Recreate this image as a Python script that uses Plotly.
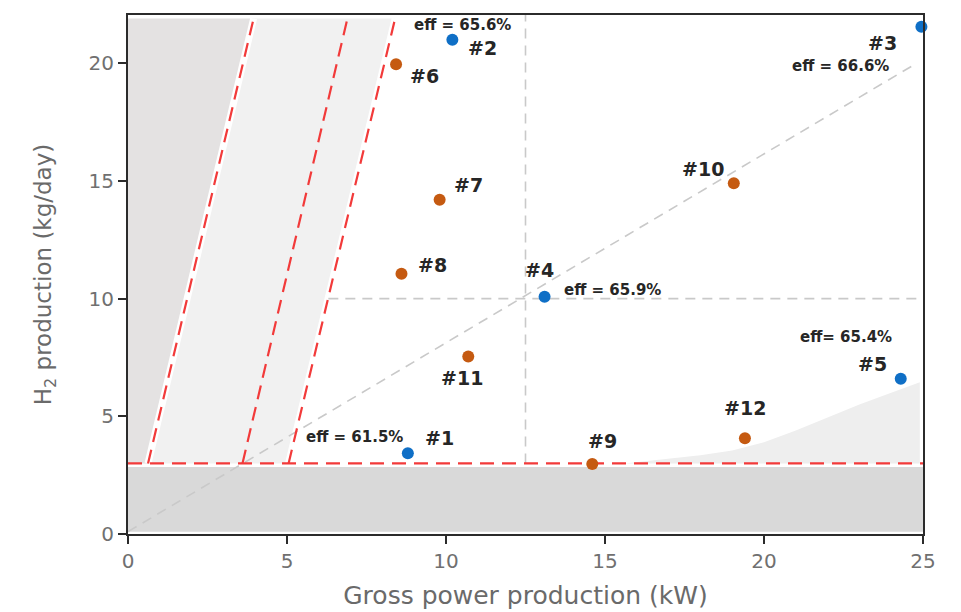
import plotly.graph_objects as go

# ---- data ----
blue_labels = ["#1", "#2", "#3", "#4", "#5"]
blue_x = [8.8, 10.2, 24.95, 13.1, 24.3]
blue_y = [3.43, 21.0, 21.55, 10.08, 6.6]

orange_labels = ["#6", "#7", "#8", "#9", "#10", "#11", "#12"]
orange_x = [8.43, 9.8, 8.6, 14.6, 19.05, 10.7, 19.4]
orange_y = [19.96, 14.2, 11.06, 2.97, 14.9, 7.54, 4.07]

eff_labels = ["eff = 61.5%", "eff = 65.6%", "eff = 66.6%", "eff = 65.9%", "eff= 65.4%"]

# boundary lines (red dashed)
lineA_x = [0.63, 3.95]
lineB_x = [3.6, 6.9]
lineC_x = [5.05, 8.4]
line_y = [3.0, 21.9]
h_limit = 3.0

# shaded regions
bottom_y = [0.1, 2.85]
curve_x = [15.6, 17, 18, 19, 20, 21, 22, 23, 24, 24.9]
curve_y = [3.0, 3.2, 3.35, 3.55, 3.9, 4.4, 4.95, 5.5, 6.0, 6.45]

# reference (efficiency) lines
eff_line_x = [0, 24.75]
eff_line_y = [0.1, 19.96]
v_ref_x = 12.5
h_ref_y = 10.0
h_ref_x0 = 6.3

XMAX = 25
YMAX = 22.05

FONT = "DejaVu Sans, Liberation Sans, Arial"

fig = go.Figure()

# bottom gray band
fig.add_trace(go.Scatter(x=[0, XMAX, XMAX, 0, 0],
                         y=[bottom_y[0], bottom_y[0], bottom_y[1], bottom_y[1], bottom_y[0]],
                         fill="toself", fillcolor="#d9d9d9", line=dict(width=0),
                         mode="lines", hoverinfo="skip", showlegend=False))
# left dark gray region
fig.add_trace(go.Scatter(x=[0, lineA_x[0], lineA_x[1], 0, 0],
                         y=[line_y[0], line_y[0], line_y[1], line_y[1], line_y[0]],
                         fill="toself", fillcolor="#e4e2e2", line=dict(width=0),
                         mode="lines", hoverinfo="skip", showlegend=False))
# light stippled band
fig.add_trace(go.Scatter(x=[lineA_x[0], lineC_x[0], lineC_x[1], lineA_x[1], lineA_x[0]],
                         y=[line_y[0], line_y[0], line_y[1], line_y[1], line_y[0]],
                         fill="toself", fillcolor="#f1f1f1", line=dict(width=0),
                         mode="lines", hoverinfo="skip", showlegend=False))
# bottom-right stippled region
fig.add_trace(go.Scatter(x=curve_x + [curve_x[-1], curve_x[0]],
                         y=curve_y + [h_limit, h_limit],
                         fill="toself", fillcolor="#eeeeee", line=dict(width=0),
                         mode="lines", hoverinfo="skip", showlegend=False))

# white borders next to red lines
for lx in (lineA_x, lineC_x):
    fig.add_trace(go.Scatter(x=lx, y=line_y, mode="lines",
                             line=dict(color="white", width=7),
                             hoverinfo="skip", showlegend=False))

# gray reference dashed lines
gray_dash = dict(color="#c9c9c9", width=1.6, dash="10px,7px")
fig.add_trace(go.Scatter(x=eff_line_x, y=eff_line_y, mode="lines", line=gray_dash,
                         hoverinfo="skip", showlegend=False))
fig.add_trace(go.Scatter(x=[v_ref_x, v_ref_x], y=[h_limit, YMAX], mode="lines", line=gray_dash,
                         hoverinfo="skip", showlegend=False))
fig.add_trace(go.Scatter(x=[h_ref_x0, XMAX], y=[h_ref_y, h_ref_y], mode="lines", line=gray_dash,
                         hoverinfo="skip", showlegend=False))

# red dashed boundary lines
red_dash = dict(color="#f23a3a", width=2.2, dash="14px,8px")
for lx in (lineA_x, lineB_x, lineC_x):
    fig.add_trace(go.Scatter(x=lx, y=line_y, mode="lines", line=red_dash,
                             hoverinfo="skip", showlegend=False))
fig.add_trace(go.Scatter(x=[0, XMAX], y=[h_limit, h_limit], mode="lines", line=red_dash,
                         hoverinfo="skip", showlegend=False, cliponaxis=False))

# points
fig.add_trace(go.Scatter(x=orange_x, y=orange_y, mode="markers",
                         marker=dict(color="#c55a11", size=12, line=dict(width=0)),
                         cliponaxis=False, showlegend=False))
fig.add_trace(go.Scatter(x=blue_x, y=blue_y, mode="markers",
                         marker=dict(color="#0f6fc6", size=12, line=dict(width=0)),
                         cliponaxis=False, showlegend=False))

# point labels (pixel offsets)
blue_off = [(32, 15), (30, -8), (-39, -16), (-5, 27), (-28, 15)]
orange_off = [(28, -12), (29, 15), (31, 9), (10, 23), (-31, 14), (-6, -21), (0, 30)]
eff_off = [(-53, 16), (10, 15), (-81, -39), (68, 7), (-55, 42)]

lab_font = dict(family=FONT, size=19, color="#262626", weight="bold")
eff_font = dict(family=FONT, size=15, color="#262626", weight="bold")

for lab, x, y, (dx, dy) in zip(blue_labels, blue_x, blue_y, blue_off):
    fig.add_annotation(x=x, y=y, text=lab, showarrow=False, xshift=dx, yshift=dy, font=lab_font)
for lab, x, y, (dx, dy) in zip(orange_labels, orange_x, orange_y, orange_off):
    fig.add_annotation(x=x, y=y, text=lab, showarrow=False, xshift=dx, yshift=dy, font=lab_font)
for lab, x, y, (dx, dy) in zip(eff_labels, blue_x, blue_y, eff_off):
    fig.add_annotation(x=x, y=y, text=lab, showarrow=False, xshift=dx, yshift=dy, font=eff_font)

axis_common = dict(showline=True, linecolor="#2b2b2b", linewidth=2, mirror=True,
                   ticks="outside", ticklen=8, tickwidth=2, tickcolor="#2b2b2b",
                   showgrid=False, zeroline=False,
                   tickfont=dict(family=FONT, size=20, color="#707070"))

fig.update_xaxes(range=[0, XMAX], tickvals=[0, 5, 10, 15, 20, 25],
                 title=dict(text="Gross power production (kW)", standoff=14,
                            font=dict(family=FONT, size=25, color="#6a6a6a")),
                 **axis_common)
fig.update_yaxes(range=[0, YMAX], tickvals=[0, 5, 10, 15, 20],
                 title=dict(text="H<sub>2</sub> production (kg/day)", standoff=30,
                            font=dict(family=FONT, size=23, color="#6a6a6a")),
                 **axis_common)

fig.update_layout(width=961, height=612, plot_bgcolor="white", paper_bgcolor="white",
                  margin=dict(l=120, r=46, t=5, b=86))

fig.write_html("out.html")
